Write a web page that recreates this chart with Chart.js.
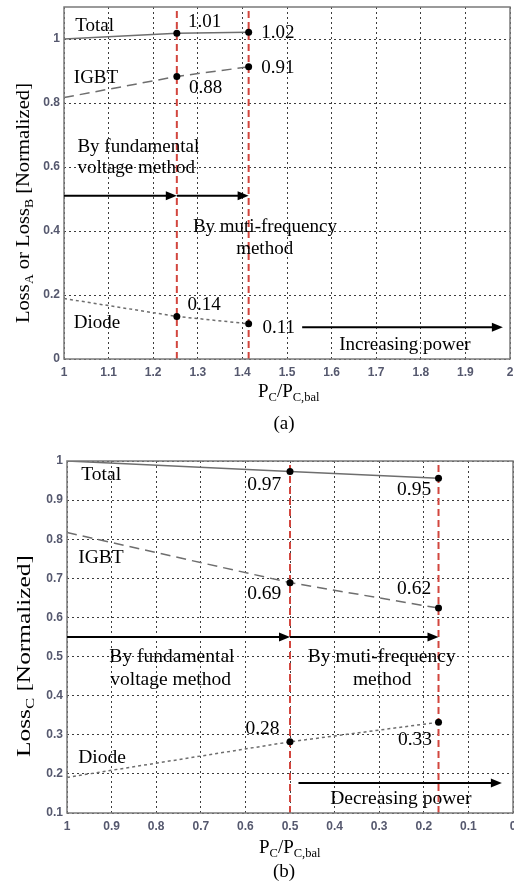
<!DOCTYPE html>
<html><head><meta charset="utf-8">
<script src="https://cdn.jsdelivr.net/npm/chart.js@4.4.1/dist/chart.umd.min.js"></script>
<style>
html,body{margin:0;padding:0;background:#fff;}
body{width:514px;height:886px;position:relative;overflow:hidden;}
.wrap{position:absolute;left:0;width:514px;}
#wa{top:0;height:440px;}
#wb{top:440px;height:446px;}
canvas{display:block;}
</style></head><body>
<div class="wrap" id="wa"><canvas id="ca" width="514" height="440"></canvas></div>
<div class="wrap" id="wb"><canvas id="cb" width="514" height="446"></canvas></div>
<script>
// ===== Data, panel (a) =====
const ratioA = [1, 1.253, 1.414];
const totalA = [1.0, 1.018, 1.021];
const igbtA  = [0.817, 0.883, 0.913];
const diodeA = [0.189, 0.133, 0.110];
const boundsA = [1.253, 1.414];
const xTicksA = [1, 1.1, 1.2, 1.3, 1.4, 1.5, 1.6, 1.7, 1.8, 1.9, 2];
const yTicksA = [0, 0.2, 0.4, 0.6, 0.8, 1];

// ===== Data, panel (b) =====
const ratioB = [1, 0.5, 0.167];
const totalB = [1.0, 0.973, 0.956];
const igbtB  = [0.817, 0.689, 0.624];
const diodeB = [0.191, 0.282, 0.332];
const boundsB = [0.5, 0.167];
const xTicksB = [1, 0.9, 0.8, 0.7, 0.6, 0.5, 0.4, 0.3, 0.2, 0.1, 0];
const yTicksB = [0.1, 0.2, 0.3, 0.4, 0.5, 0.6, 0.7, 0.8, 0.9, 1];

// ===== Annotation texts (data coordinates) =====
const textsA = [
  ['Total', 1.025, 1.026], ['1.01', 1.278, 1.038], ['1.02', 1.442, 1.004],
  ['IGBT', 1.022, 0.861], ['0.88', 1.280, 0.831], ['0.91', 1.442, 0.895],
  ['By fundamental', 1.030, 0.646], ['voltage method', 1.030, 0.582],
  ['By muti-frequency', 1.289, 0.396], ['method', 1.386, 0.328],
  ['0.14', 1.277, 0.153], ['Diode', 1.022, 0.096], ['0.11', 1.445, 0.082],
  ['Increasing power', 1.617, 0.028]
];
const textsB = [
  ['Total', 0.968, 0.952], ['0.97', 0.596, 0.925], ['0.95', 0.260, 0.912],
  ['IGBT', 0.975, 0.738], ['0.69', 0.596, 0.646], ['0.62', 0.260, 0.659],
  ['By fundamental', 0.905, 0.486], ['voltage method', 0.903, 0.426],
  ['By muti-frequency', 0.460, 0.486], ['method', 0.359, 0.426],
  ['0.28', 0.600, 0.301], ['0.33', 0.258, 0.273], ['Diode', 0.975, 0.228],
  ['Decreasing power', 0.410, 0.122]
];
// arrows: [yValue, fromX, toX]
const arrowsA = [[0.51, 1, boundsA[0]], [0.51, boundsA[0], boundsA[1]], [0.099, 1.534, 1.984]];
const arrowsB = [[0.55, 1, boundsB[0]], [0.55, boundsB[0], boundsB[1]], [0.177, 0.481, 0.025]];

const SERIF = '"Liberation Serif", "Times New Roman", serif';
const SUBFONT = '12.5px ' + SERIF;

function richWidth(ctx, parts, base) {
  let w = 0;
  for (const [t, s] of parts) { ctx.font = s ? SUBFONT : base; w += ctx.measureText(t).width; }
  return w;
}
function drawRich(ctx, parts, x, y, align, base) {
  const w = richWidth(ctx, parts, base);
  let cx = align === 'center' ? x - w / 2 : x;
  ctx.textAlign = 'left';
  ctx.textBaseline = 'alphabetic';
  for (const [t, s] of parts) {
    ctx.font = s ? SUBFONT : base;
    ctx.fillText(t, cx, s ? y + 4 : y);
    cx += ctx.measureText(t).width;
  }
}

function makeOverlay(texts, arrows, titles, textFont) {
  return {
    id: 'overlay',
    afterDatasetsDraw(chart) {
      const ctx = chart.ctx, xs = chart.scales.x, ys = chart.scales.y, a = chart.chartArea;
      ctx.save();
      // frame
      ctx.strokeStyle = '#7a7a7a';
      ctx.lineWidth = 1.5;
      ctx.setLineDash([]);
      ctx.strokeRect(a.left, a.top, a.right - a.left, a.bottom - a.top);
      // arrows
      ctx.strokeStyle = '#000';
      ctx.fillStyle = '#000';
      ctx.lineWidth = 2;
      for (const [yv, x0, x1] of arrows) {
        const py = ys.getPixelForValue(yv);
        const p0 = xs.getPixelForValue(x0), p1 = xs.getPixelForValue(x1);
        const dir = Math.sign(p1 - p0);
        ctx.beginPath(); ctx.moveTo(p0, py); ctx.lineTo(p1 - dir * 8, py); ctx.stroke();
        ctx.beginPath(); ctx.moveTo(p1, py); ctx.lineTo(p1 - dir * 11, py - 4.5); ctx.lineTo(p1 - dir * 11, py + 4.5); ctx.closePath(); ctx.fill();
      }
      // texts
      ctx.fillStyle = '#000';
      ctx.font = textFont;
      ctx.textAlign = 'left';
      ctx.textBaseline = 'alphabetic';
      for (const [t, xv, yv] of texts) {
        ctx.fillText(t, xs.getPixelForValue(xv), ys.getPixelForValue(yv));
      }
      // axis titles
      const tf = '19px ' + SERIF;
      drawRich(ctx, titles.x, titles.xPos[0], titles.xPos[1], 'left', tf);
      drawRich(ctx, [[titles.cap, 0]], titles.capPos[0], titles.capPos[1], 'center', tf);
      ctx.save();
      ctx.translate(titles.yPos[0], titles.yPos[1]);
      ctx.rotate(-Math.PI / 2);
      const w = richWidth(ctx, titles.y, tf);
      ctx.scale(titles.yLen / w, 1);
      drawRich(ctx, titles.y, 0, 0, 'center', tf);
      ctx.restore();
      ctx.restore();
    }
  };
}

const fmt = v => String(Math.round(v * 10) / 10);
const tickFont = { family: '"Liberation Sans", Arial, sans-serif', size: 12, weight: 'bold' };
const tickColor = '#55586e';

function series(xArr, yArr, dash) {
  return {
    data: xArr.map((x, i) => ({ x, y: yArr[i] })),
    borderColor: '#6e6e6e', borderWidth: 1.5, borderDash: dash,
    pointRadius: xArr.map((x, i) => (i === 0 ? 0 : 3.5)),
    pointBackgroundColor: '#000', pointBorderWidth: 0, tension: 0, fill: false
  };
}
function redLine(xv, y0, y1) {
  return {
    data: [{ x: xv, y: y0 }, { x: xv, y: y1 }],
    borderColor: '#d2463e', borderWidth: 2, borderDash: [7, 4], pointRadius: 0, fill: false
  };
}

function build(id, c) {
  return new Chart(document.getElementById(id), {
    type: 'line',
    data: {
      datasets: [
        series(c.rx, c.total, []),
        series(c.rx, c.igbt, [10, 6]),
        series(c.rx, c.diode, [3, 3]),
        redLine(c.bounds[0], c.ymin, c.ymax),
        redLine(c.bounds[1], c.ymin, c.ymax)
      ]
    },
    options: {
      responsive: false, animation: false, devicePixelRatio: 1,
      layout: { autoPadding: false, padding: { top: c.padTop, right: c.padRight, left: 0, bottom: 0 } },
      plugins: { legend: { display: false }, tooltip: { enabled: false }, title: { display: false } },
      scales: {
        x: {
          type: 'linear', min: c.xmin, max: c.xmax, reverse: c.reverse,
          afterBuildTicks: s => { s.ticks = c.xt.map(v => ({ value: v })); },
          afterFit: s => { s.height = c.xH; s.paddingLeft = 0; s.paddingRight = 0; },
          ticks: { autoSkip: false, maxRotation: 0, minRotation: 0, padding: 6, color: tickColor, font: tickFont, callback: v => fmt(v) },
          grid: { color: '#3c3c3c', lineWidth: 1, drawTicks: false },
          border: { display: false, dash: [2, 3] }
        },
        y: {
          type: 'linear', min: c.ymin, max: c.ymax,
          afterBuildTicks: s => { s.ticks = c.yt.map(v => ({ value: v })); },
          afterFit: s => { s.width = c.yW; s.paddingTop = 0; s.paddingBottom = 0; },
          ticks: { autoSkip: false, padding: 4, color: tickColor, font: tickFont, callback: v => fmt(v) },
          grid: { color: '#3c3c3c', lineWidth: 1, drawTicks: false },
          border: { display: false, dash: [2, 3] }
        }
      }
    },
    plugins: [makeOverlay(c.texts, c.arrows, c.titles, c.textFont)]
  });
}

build('ca', {
  rx: ratioA, total: totalA, igbt: igbtA, diode: diodeA, bounds: boundsA,
  xt: xTicksA, yt: yTicksA, xmin: 1, xmax: 2, ymin: 0, ymax: 1.1, reverse: false,
  padTop: 7, padRight: 4, xH: 81, yW: 64,
  texts: textsA, arrows: arrowsA, textFont: '19px ' + SERIF,
  titles: {
    x: [['P', 0], ['C', 1], ['/P', 0], ['C,bal', 1]], xPos: [258, 397],
    cap: '(a)', capPos: [284, 429],
    y: [['Loss', 0], ['A', 1], [' or Loss', 0], ['B', 1], [' [Normalized]', 0]], yPos: [28.5, 203], yLen: 240
  }
});

build('cb', {
  rx: ratioB, total: totalB, igbt: igbtB, diode: diodeB, bounds: boundsB,
  xt: xTicksB, yt: yTicksB, xmin: 0, xmax: 1, ymin: 0.1, ymax: 1, reverse: true,
  padTop: 21, padRight: 1, xH: 73, yW: 67,
  texts: textsB, arrows: arrowsB, textFont: '19.5px ' + SERIF,
  titles: {
    x: [['P', 0], ['C', 1], ['/P', 0], ['C,bal', 1]], xPos: [259, 413],
    cap: '(b)', capPos: [284, 437],
    y: [['Loss', 0], ['C', 1], [' [Normalized]', 0]], yPos: [30, 216], yLen: 202
  }
});
</script>
</body></html>
